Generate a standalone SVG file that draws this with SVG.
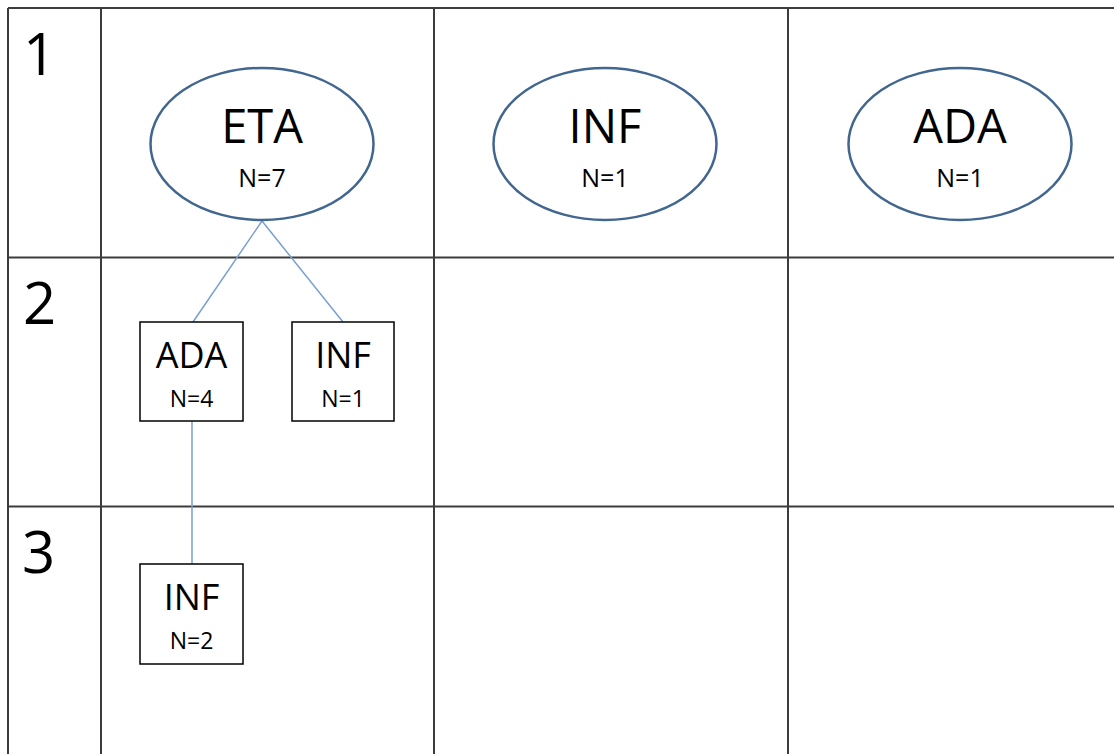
<svg xmlns="http://www.w3.org/2000/svg" width="1114" height="754" viewBox="0 0 1114 754">
<style>
.grid{stroke:#3c3c3c;stroke-width:2;fill:none}
.ell{fill:#fff;stroke:#41668f;stroke-width:2.5}
.box{fill:#fff;stroke:#000;stroke-width:1.5}
.conn{stroke:#7a9fd2;stroke-width:1.5;fill:none}
text{font-family:"Open Sans","Noto Sans",sans-serif;fill:#000;text-anchor:middle}
.row{font-size:58px;text-anchor:start}
.big{font-size:47px}
.mid{font-size:36px}
.n1{font-size:25px}
.n2{font-size:23px}
</style>
<rect width="1114" height="754" fill="#fff"/>
<g id="grid">
<path class="grid" d="M8,8H1114M8,257.5H1114M8,506.5H1114M8,8V754M101,8V754M434,8V754M788,8V754"/>
<text class="row" x="23" y="75">1</text>
<text class="row" x="23" y="324">2</text>
<text class="row" x="22" y="573">3</text>
</g>
<g id="connectors">
<line class="conn" x1="262" y1="221" x2="193" y2="322"/>
<line class="conn" x1="262" y1="221" x2="343" y2="322"/>
<line class="conn" x1="192" y1="421" x2="192" y2="564"/>
</g>
<g id="eta1">
<ellipse class="ell" cx="262" cy="144" rx="111.5" ry="76"/>
<text class="big" x="262" y="143">ETA</text>
<text class="n1" x="262" y="187">N=7</text>
</g>
<g id="inf1">
<ellipse class="ell" cx="605" cy="144" rx="111.5" ry="76"/>
<text class="big" x="605" y="143">INF</text>
<text class="n1" x="605" y="187">N=1</text>
</g>
<g id="ada1">
<ellipse class="ell" cx="960" cy="144" rx="111.5" ry="76"/>
<text class="big" x="960" y="143">ADA</text>
<text class="n1" x="960" y="187">N=1</text>
</g>
<g id="ada2">
<rect class="box" x="140" y="322" width="103" height="99"/>
<text class="mid" x="191.5" y="368">ADA</text>
<text class="n2" x="191.5" y="407">N=4</text>
</g>
<g id="inf2">
<rect class="box" x="292" y="322" width="102" height="99"/>
<text class="mid" x="343" y="368">INF</text>
<text class="n2" x="343" y="407">N=1</text>
</g>
<g id="inf3">
<rect class="box" x="140" y="564" width="103" height="100"/>
<text class="mid" x="191.5" y="610">INF</text>
<text class="n2" x="191.5" y="649">N=2</text>
</g>
</svg>
